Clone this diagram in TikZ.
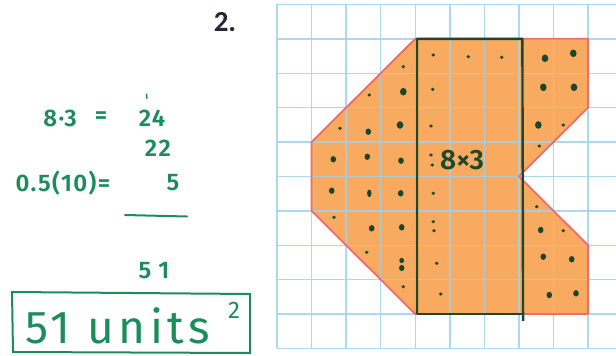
\documentclass[tikz,border=0pt]{standalone}
\usepackage{fontspec}
\newfontfamily\hand[LetterSpace=6]{Fira Sans SemiBold}
\newfontfamily\handwide[LetterSpace=10]{Fira Sans}
\newfontfamily\handbold{Fira Sans SemiBold}
\newfontfamily\printed{Carlito}
\definecolor{penGreen}{RGB}{28,140,92}
\definecolor{gridBlue}{RGB}{160,210,236}
\definecolor{fillOrange}{RGB}{248,170,96}
\definecolor{edgeRed}{RGB}{238,108,108}
\definecolor{rectGreen}{RGB}{30,72,44}
\definecolor{dotGreen}{RGB}{26,70,44}
\definecolor{labelGray}{RGB}{40,40,52}
\begin{document}
\begin{tikzpicture}[x=1pt,y=-1pt,
  hw/.style={text=penGreen, font=\hand\fontsize{24}{24}\selectfont, inner sep=0pt},
  pen/.style={draw=penGreen, line width=2pt, line cap=round},
  gridline/.style={draw=gridBlue, line width=1.4pt},
  edge/.style={draw=edgeRed, line width=1.8pt, line join=round},
  sdot/.style={fill=dotGreen}]
\useasboundingbox (0,0) rectangle (616,356);
\fill[white] (0,0) rectangle (616,356);

% ---- graph paper and shape ----
\begin{scope}[shift={(277,4.4)}, x=34.56pt, y=-34.4pt]
  \fill[fillOrange] (4,1) -- (9,1) -- (9,3) -- (7,5) -- (9,7) -- (9,9) -- (4,9) -- (1,6) -- (1,4) -- cycle;
  \foreach \i in {0,...,9} \draw[gridline, opacity=0.85] (\i,0) -- (\i,10);
  \foreach \j in {0,...,10} \draw[gridline, opacity=0.85] (0,\j) -- (9.81,\j);
  \draw[edge] (4,1) -- (9,1) -- (9,3) -- (7,5) -- (9,7) -- (9,9) -- (4,9) -- (1,6) -- (1,4) -- cycle;
  \draw[draw=rectGreen, line width=2.4pt, line join=round]
     (4.05,9) -- (4.05,1) -- (7.1,1) -- (7.12,9.2);
  \draw[draw=rectGreen, line width=2.4pt] (4.05,9) -- (7.12,9);
\end{scope}

% ---- dots ----
\foreach \x/\y in {403.3/66.7, 433.3/55, 468.3/56.7, 501.7/57.3, 369.3/95, 432.7/89.3,
  340/128.3, 431/126, 563.3/125, 539.3/146, 433.3/193.3, 536.7/206.7, 334/217.3,
  433.3/221.7, 434/230.7, 563.3/230.7, 366.7/252.3, 436.7/263.3, 403.3/286.7, 440.7/294,
  431/155, 432.3/165}
  \fill[sdot] (\x,\y) ellipse (1.9pt and 1.7pt);
\foreach \x/\y in {368.3/131.7, 333.3/159.3, 367.3/156.7, 401/160.7, 331.7/190.7,
  400.7/193.3, 371.7/228.3, 401.7/227.3, 540.7/230, 543.3/256.7, 571.7/259.3,
  549.3/295, 576/293.3}
  \fill[sdot] (\x,\y) ellipse (2.8pt and 3.2pt);
\foreach \x/\y in {545/58.3, 573.3/53.3, 403.3/91.7, 543.3/87.3, 574/87.3, 400/125, 538.3/125}
  \fill[sdot] (\x,\y) ellipse (3.3pt and 3.8pt);
\fill[sdot] (369.3,193.3) ellipse (2.2pt and 3.8pt);
\fill[sdot] (401.7,260.5) ellipse (2.4pt and 2.6pt);
\fill[sdot] (401.7,268) ellipse (2.7pt and 3pt);

\node[text=rectGreen, font=\handbold\fontsize{28}{28}\selectfont, inner sep=0pt] (area) at (462,160) {8×3};

% ---- problem number ----
\node[font=\printed\bfseries\fontsize{29}{29}\selectfont, text=labelGray, inner sep=0pt] (num) at (225,22) {2.};

% ---- handwritten working ----
\node[hw] (t1) at (60,118) {8·3};
\node[hw] (t2) at (101,118) {=};
\node[hw] (t3) at (152,118) {24};
\draw[pen, line width=1.4pt] (146.5,94) -- (147,98.5);
\node[hw] (t4) at (158,148) {22};
\node[hw] (t5) at (63,183) {0.5(10)=};
\node[hw] (t6) at (173,183) {5};
\draw[pen] (125,215) -- (187,216.5);
\node[hw] (t7) at (154,271) {5 1};
\draw[pen] (12,292) -- (250,294) -- (250,353) -- (13,352) -- cycle;
\node[text=penGreen, font=\handwide\fontsize{46}{46}\selectfont, inner sep=0pt, anchor=base west] (ans) at (25,343) {51 units};
\node[text=penGreen, font=\handwide\fontsize{24}{24}\selectfont, inner sep=0pt] (sq) at (234,310) {2};
\end{tikzpicture}
\end{document}
